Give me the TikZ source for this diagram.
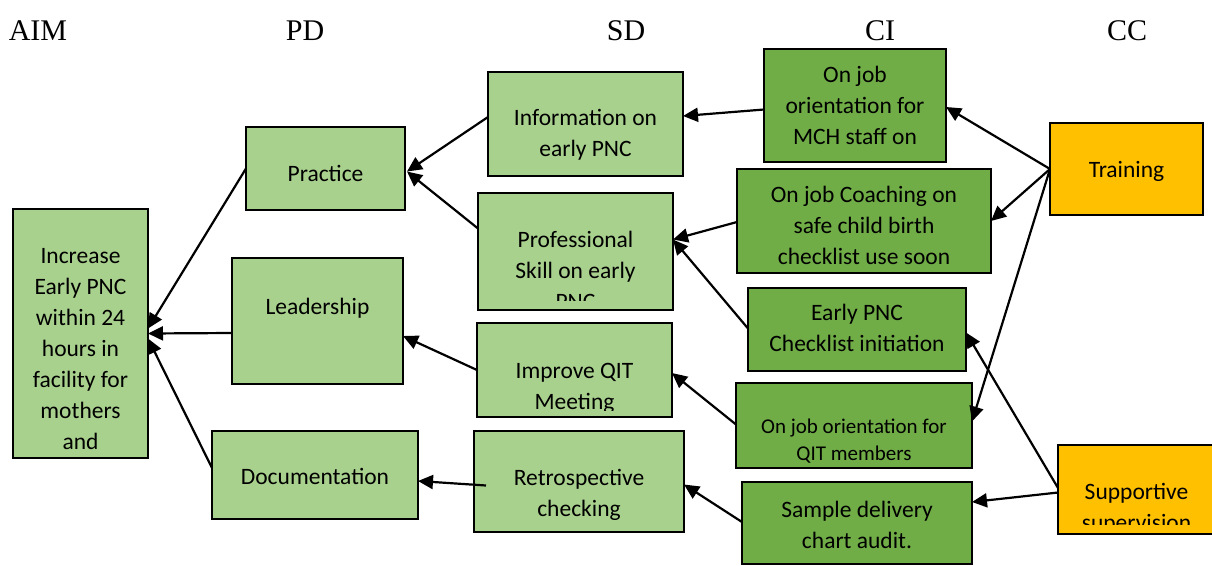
\documentclass[tikz,border=0pt]{standalone}
\usepackage{fontspec}
\newfontfamily\carlito{Carlito}
\newfontfamily\tnr{Liberation Serif}
\usetikzlibrary{arrows.meta}
\definecolor{lgreen}{HTML}{A9D18E}
\definecolor{dgreen}{HTML}{70AD47}
\definecolor{gold}{HTML}{FFC000}
\tikzset{
  boxbase/.style={draw=black, line width=2.6pt, inner sep=0pt, outer sep=0pt, anchor=north west, rectangle},
  lbox/.style={boxbase, fill=lgreen},
  dbox/.style={boxbase, fill=dgreen},
  obox/.style={boxbase, fill=gold},
  txt/.style={font=\carlito\fontsize{23.5}{31}\selectfont, align=center, inner sep=0pt, anchor=north, text=black},
  stxt/.style={font=\carlito\fontsize{21}{27}\selectfont, align=center, inner sep=0pt, anchor=north, text=black},
  hdr/.style={font=\tnr\fontsize{30}{36}\selectfont, anchor=base, inner sep=0pt},
  conn/.style={draw=black, line width=2.2pt, -{Triangle[length=15pt,width=14pt]}},
}
\newcommand\bx[6]{\node[#2, minimum width={(#5)-(#3)}, minimum height={(#6)-(#4)}] (#1) at (#3,#4) {};}
\begin{document}
\begin{tikzpicture}[x=1pt,y=-1pt]
\useasboundingbox (0,0) rectangle (1212,565);
\clip (0,0) rectangle (1212,565);
\fill[white] (0,0) rectangle (1212,565);

% headers
\node[hdr] (hAIM) at (38,40) {AIM};
\node[hdr] (hPD) at (305,40) {PD};
\node[hdr] (hSD) at (626,40) {SD};
\node[hdr] (hCI) at (880,40) {CI};
\node[hdr] (hCC) at (1127,40) {CC};

% boxes
\bx{aim}{lbox}{13}{209}{148}{458}
\bx{prac}{lbox}{246}{127}{405}{210}
\bx{lead}{lbox}{232}{258}{403}{384}
\bx{doc}{lbox}{212}{431}{418}{519}
\bx{info}{lbox}{488}{72}{683}{176}
\bx{prof}{lbox}{478}{193}{673}{310}
\bx{qit}{lbox}{477}{323}{672}{417}
\bx{retro}{lbox}{474}{431}{684}{532}
\bx{mch}{dbox}{764}{49}{946}{162}
\bx{coach}{dbox}{737}{169}{991}{273}
\bx{chk}{dbox}{748}{288}{966}{371}
\bx{qitm}{dbox}{736}{383}{972}{468}
\bx{sample}{dbox}{742}{482}{972}{564}
\bx{train}{obox}{1050}{123}{1203}{215}
\bx{sup}{obox}{1058}{445}{1215}{534}

% texts
\node[txt] (aimT) at (80.5,241.3) {\strut Increase\\Early PNC\\within 24\\hours in\\facility for\\mothers\\and};
\node[txt] (pracT) at (325.5,159.3) {\strut Practice};
\node[txt] (leadT) at (317.5,292.3) {\strut Leadership};
\node[txt] (docT) at (315,462.3) {\strut Documentation};
\node[txt] (infoT) at (585.5,103.3) {\strut Information on\\early PNC};
\begin{scope}
  \clip (478,193) rectangle (673,300);
  \node[txt] (profT) at (575.5,225.3) {\strut Professional\\Skill on early\\PNC};
\end{scope}
\begin{scope}
  \clip (477,323) rectangle (672,410);
  \node[txt] (qitT) at (574.5,356.3) {\strut Improve QIT\\Meeting};
\end{scope}
\node[txt] (retroT) at (579,463.3) {\strut Retrospective\\checking};
\node[txt] (mchT) at (855,60.3) {\strut On job\\orientation for\\MCH staff on};
\node[txt] (coachT) at (864,180.3) {\strut On job Coaching on\\safe child birth\\checklist use soon};
\node[txt] (chkT) at (857,298.3) {\strut Early PNC\\Checklist initiation};
\node[stxt] (qitmT) at (854,414.1) {\strut On job orientation for\\QIT members};
\node[txt] (sampleT) at (857,495.3) {\strut Sample delivery\\chart audit.};
\node[txt] (trainT) at (1126.5,155.3) {\strut Training};
\begin{scope}
  \clip (1058,445) rectangle (1215,524);
  \node[txt] (supT) at (1136.5,477.3) {\strut Supportive\\supervision};
\end{scope}

% connectors
\draw[conn] (prac.west) -- ([yshift=5pt]aim.east);
\draw[conn] ([yshift=-12pt]lead.west) -- (aim.east);
\draw[conn] ([yshift=7pt]doc.west) -- ([yshift=-5pt]aim.east);
\draw[conn] ([yshift=7pt]info.west) -- ([xshift=2pt,yshift=-3pt]prac.east);
\draw[conn] ([yshift=23pt]prof.west) -- ([xshift=2pt,yshift=-3pt]prac.east);
\draw[conn] ([yshift=-4pt]mch.west) -- ([yshift=8pt]info.east);
\draw[conn] ([yshift=-1pt]coach.west) -- ([yshift=12pt]prof.east);
\draw[conn] ([yshift=1pt]chk.west) -- ([yshift=12pt]prof.east);
\draw[conn] ([yshift=1pt]qitm.west) -- ([yshift=-3pt]qit.east);
\draw[conn] ([yshift=1pt]sample.west) -- ([yshift=-3pt]retro.east);
\draw[conn] (qit.west) -- ([yshift=-15pt]lead.east);
\draw[conn] ([xshift=12pt,yshift=-4pt]retro.west) -- ([yshift=-6pt]doc.east);
\draw[conn] (train.west) -- ([yshift=-1.5pt]mch.east);
\draw[conn] (train.west) -- (coach.east);
\draw[conn] (train.west) -- ([yshift=4pt]qitm.east);
\draw[conn] ([yshift=1.5pt]sup.west) -- ([yshift=-3pt]chk.east);
\draw[conn] ([yshift=-3pt]sup.west) -- ([yshift=21pt]sample.east);
\end{tikzpicture}
\end{document}
